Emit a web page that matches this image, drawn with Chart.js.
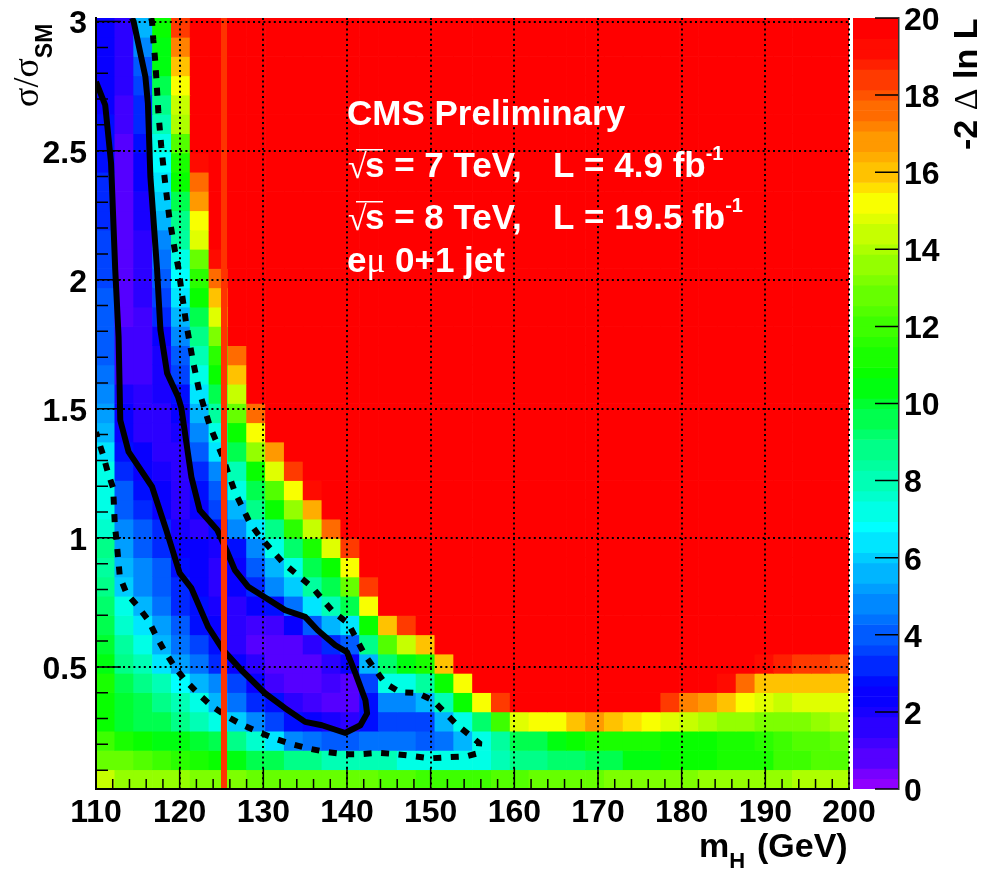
<!DOCTYPE html>
<html>
<head>
<meta charset="utf-8">
<title>CMS likelihood scan</title>
<script src="https://cdn.jsdelivr.net/npm/chart.js@4/dist/chart.umd.min.js"></script>
<style>
    html, body { margin: 0; padding: 0; background: #fff; }
    #wrap { position: relative; width: 982px; height: 870px; overflow: hidden; }
    canvas { position: absolute; left: 0; top: 0; }
</style>
</head>
<body>
<div id="wrap">
    <canvas id="scan" width="982" height="870"></canvas>
    <canvas id="zbar" width="982" height="870"></canvas>
</div>
<script>
// axis ranges and tick labels
const massMin = 110, massMax = 200, massBin = 2.25;
const sigmaMin = 0.027, sigmaMax = 3.014, sigmaBin = (3.014 - 0.027) / 40;
const massTicks = [110, 120, 130, 140, 150, 160, 170, 180, 190, 200];
const sigmaTicks = [0.5, 1, 1.5, 2, 2.5, 3];
const zTicks = [0, 2, 4, 6, 8, 10, 12, 14, 16, 18, 20];

// -2 delta ln L per cell, first row is the bottom one, 40 columns from 110 GeV up
const cellValues = [
    [14.2,13.7,13.6,13.5,13.4,13.3,13.2,13.1,13,13,13,12.9,12.9,12.9,12.6,12.5,12.3,12,12,12.1,12.2,12.4,12.5,12.7,12.8,12.9,13,13.1,13.1,13.2,13.2,13.3,13.4,13.5,13.7,13.7,13.8,13.9,14,14.1],
    [13,12.6,12.3,12,11.5,11,10.9,10.6,9.7,9.4,8.9,8.7,7.8,7.8,8,8,7.4,7.2,7,7,7.2,7.8,8.6,8.8,9.1,9.3,9.4,9.4,10.2,10.2,10.9,10.9,10.9,11.2,11.2,11.2,11.8,11.8,12.4,12.4],
    [12,11.3,10.9,10.5,10.4,10.1,9.7,8.8,7.7,6.3,4.8,4.4,4.2,3.9,4.5,4.5,4.4,3.9,4.4,5.6,7.2,8.4,9.5,9.8,10.5,10.9,11,11.1,11.1,11.1,10.9,10.9,10.9,11.3,11.3,11.5,11.8,12.3,12.5,12.6],
    [10.9,10.1,9.8,9.5,8.7,8,7.2,6,4.7,3.5,2.8,2.2,1.9,1.7,2.8,3.7,3.7,3.7,5.5,7,9.3,11.8,14.8,15,15.4,16,16.6,16.1,15.6,15,14.8,14.2,14,13.7,13.5,13.1,13.1,13.2,13.5,14],
    [10.9,9.9,9.4,8.8,8,7,5.7,4.5,3.4,2.7,1.5,1.1,0.9,0.9,2.8,4.7,5,5.5,8,10.9,15,18.3,20,20,20,20,20,20,20,20,18.3,17.2,16.8,16,15.4,14.8,14.5,14.8,14.9,14.9],
    [11,9.4,8.7,7.9,6.8,5.7,4.7,3.6,2.2,1.3,0.7,0.6,1.1,1,3.6,7,7.4,8.4,10.9,15.4,20,20,20,20,20,20,20,20,20,20,20,20,20,19,17.7,16.1,16.1,16.1,16.1,16.1],
    [10.4,8.8,8,6.3,5.3,4.4,3.4,2.6,1.4,0.9,0.8,0.9,1.4,2.6,5.7,9.3,10.4,11.2,16,20,20,20,20,20,20,20,20,20,20,20,20,20,20,20,20,19,18.7,18.4,18.4,18.1],
    [10,8.3,7.2,5.7,4.4,3.7,2.7,1.7,1,0.7,0.7,1.5,3,3.8,8.6,12.5,14.6,16,20,20,20,20,20,20,20,20,20,20,20,20,20,20,20,20,20,20,20,20,20,20],
    [9.6,7.6,6.3,5.3,3.9,2.9,2.3,1.4,1.2,1.3,2.5,3.8,5.8,6.6,10.8,16.1,18.3,20,20,20,20,20,20,20,20,20,20,20,20,20,20,20,20,20,20,20,20,20,20,20],
    [9.1,7.2,5.4,4.4,3.3,2.8,1.9,1.8,2.6,2.9,4.5,6.2,8,9.5,15,20,20,20,20,20,20,20,20,20,20,20,20,20,20,20,20,20,20,20,20,20,20,20,20,20],
    [8.7,6,5,4.1,3,2.6,1.5,2.2,3,4.7,5.9,8.4,9.7,13,18.3,20,20,20,20,20,20,20,20,20,20,20,20,20,20,20,20,20,20,20,20,20,20,20,20,20],
    [8.5,5.5,4.7,3.8,2.9,2.4,1.6,2.2,3.8,5.6,7.4,9.6,10.9,15.4,20,20,20,20,20,20,20,20,20,20,20,20,20,20,20,20,20,20,20,20,20,20,20,20,20,20],
    [8.6,5.2,4.2,3.3,2.6,2.3,2,2.8,4.8,7.2,9.2,11,14.7,18.2,20,20,20,20,20,20,20,20,20,20,20,20,20,20,20,20,20,20,20,20,20,20,20,20,20,20],
    [7.6,5,3.9,3,2.1,1.8,2.9,4.7,6.4,9,11.5,14.2,17.4,20,20,20,20,20,20,20,20,20,20,20,20,20,20,20,20,20,20,20,20,20,20,20,20,20,20,20],
    [7.4,3.8,3.3,2.5,1.7,2.2,3.5,5.6,8.6,10.9,13.5,16.3,20,20,20,20,20,20,20,20,20,20,20,20,20,20,20,20,20,20,20,20,20,20,20,20,20,20,20,20],
    [7,3.8,2.8,2.3,1.6,2.7,4,7,9.5,12.5,15.3,19,20,20,20,20,20,20,20,20,20,20,20,20,20,20,20,20,20,20,20,20,20,20,20,20,20,20,20,20],
    [7,3.2,2.5,2.1,1.7,3,4.7,8,10.9,14.9,18.3,20,20,20,20,20,20,20,20,20,20,20,20,20,20,20,20,20,20,20,20,20,20,20,20,20,20,20,20,20],
    [6.5,2.9,2.3,1.8,1.8,3.9,6.2,9.4,13.4,16.8,20,20,20,20,20,20,20,20,20,20,20,20,20,20,20,20,20,20,20,20,20,20,20,20,20,20,20,20,20,20],
    [5.7,2.6,1.8,1.7,1.9,4.7,7.3,10.9,15.4,20,20,20,20,20,20,20,20,20,20,20,20,20,20,20,20,20,20,20,20,20,20,20,20,20,20,20,20,20,20,20],
    [5.2,2.3,1.6,1.8,2.2,5.5,8.4,12.7,17.6,20,20,20,20,20,20,20,20,20,20,20,20,20,20,20,20,20,20,20,20,20,20,20,20,20,20,20,20,20,20,20],
    [4.8,1.9,1.5,2.1,2.8,6.2,9.8,14.6,20,20,20,20,20,20,20,20,20,20,20,20,20,20,20,20,20,20,20,20,20,20,20,20,20,20,20,20,20,20,20,20],
    [4.4,1.3,1.3,2.1,3.5,7,10.9,16,20,20,20,20,20,20,20,20,20,20,20,20,20,20,20,20,20,20,20,20,20,20,20,20,20,20,20,20,20,20,20,20],
    [4.2,1.2,1.2,2.1,4.2,8,11.6,17.6,20,20,20,20,20,20,20,20,20,20,20,20,20,20,20,20,20,20,20,20,20,20,20,20,20,20,20,20,20,20,20,20],
    [4,1.1,1.1,2.6,5,8.8,13.3,20,20,20,20,20,20,20,20,20,20,20,20,20,20,20,20,20,20,20,20,20,20,20,20,20,20,20,20,20,20,20,20,20],
    [3.9,1,1.2,3,5.8,9.7,14.8,20,20,20,20,20,20,20,20,20,20,20,20,20,20,20,20,20,20,20,20,20,20,20,20,20,20,20,20,20,20,20,20,20],
    [3.8,0.7,1.5,3.5,6.4,10.8,16,20,20,20,20,20,20,20,20,20,20,20,20,20,20,20,20,20,20,20,20,20,20,20,20,20,20,20,20,20,20,20,20,20],
    [3.7,0.8,1.5,3.8,6.7,11.7,17.6,20,20,20,20,20,20,20,20,20,20,20,20,20,20,20,20,20,20,20,20,20,20,20,20,20,20,20,20,20,20,20,20,20],
    [3.7,0.8,1.6,4.4,7.4,13,19.2,20,20,20,20,20,20,20,20,20,20,20,20,20,20,20,20,20,20,20,20,20,20,20,20,20,20,20,20,20,20,20,20,20],
    [3.5,0.8,1.7,5,8.3,14.8,20,20,20,20,20,20,20,20,20,20,20,20,20,20,20,20,20,20,20,20,20,20,20,20,20,20,20,20,20,20,20,20,20,20],
    [3.3,0.8,1.9,5.6,9,15.4,20,20,20,20,20,20,20,20,20,20,20,20,20,20,20,20,20,20,20,20,20,20,20,20,20,20,20,20,20,20,20,20,20,20],
    [3.1,0.8,2.1,6,9.8,16.8,20,20,20,20,20,20,20,20,20,20,20,20,20,20,20,20,20,20,20,20,20,20,20,20,20,20,20,20,20,20,20,20,20,20],
    [3,0.8,2.3,6.4,10.8,17.8,20,20,20,20,20,20,20,20,20,20,20,20,20,20,20,20,20,20,20,20,20,20,20,20,20,20,20,20,20,20,20,20,20,20],
    [2.9,0.9,2.5,6.9,11.2,19,20,20,20,20,20,20,20,20,20,20,20,20,20,20,20,20,20,20,20,20,20,20,20,20,20,20,20,20,20,20,20,20,20,20],
    [2.8,1,2.8,7.2,12.5,20,20,20,20,20,20,20,20,20,20,20,20,20,20,20,20,20,20,20,20,20,20,20,20,20,20,20,20,20,20,20,20,20,20,20],
    [2.7,1.1,3,8,14,20,20,20,20,20,20,20,20,20,20,20,20,20,20,20,20,20,20,20,20,20,20,20,20,20,20,20,20,20,20,20,20,20,20,20],
    [2.6,1.2,3.3,8.7,14.6,20,20,20,20,20,20,20,20,20,20,20,20,20,20,20,20,20,20,20,20,20,20,20,20,20,20,20,20,20,20,20,20,20,20,20],
    [2.4,1.4,3.7,9.4,15.4,20,20,20,20,20,20,20,20,20,20,20,20,20,20,20,20,20,20,20,20,20,20,20,20,20,20,20,20,20,20,20,20,20,20,20],
    [2.4,1.5,4,10.3,16,20,20,20,20,20,20,20,20,20,20,20,20,20,20,20,20,20,20,20,20,20,20,20,20,20,20,20,20,20,20,20,20,20,20,20],
    [2.4,1.6,4.8,10.6,17.3,20,20,20,20,20,20,20,20,20,20,20,20,20,20,20,20,20,20,20,20,20,20,20,20,20,20,20,20,20,20,20,20,20,20,20],
    [2.4,1.5,5.5,10.8,18.3,20,20,20,20,20,20,20,20,20,20,20,20,20,20,20,20,20,20,20,20,20,20,20,20,20,20,20,20,20,20,20,20,20,20,20]
];

// solid contour (68%)
const solidMass = [110,111.1,111.8,112.3,112.7,112.9,113.9,116.7,118.4,120,121.4,123.4,125.2,127.4,130.2,132.6,135,137,139.8,140,141.6,142.4,142.2,141,140,138.6,136.5,135,132.6,129.8,128.2,126.6,125.6,124.5,122.4,121.4,120.2,119.8,118.5,117.7,117.3,116.9,116.5,116.2,115.9,114.5,114.3];
const solidSigma = [2.767,2.677,2.452,2.038,1.779,1.456,1.333,1.198,1.03,0.863,0.805,0.655,0.565,0.487,0.398,0.34,0.287,0.274,0.244,0.248,0.274,0.32,0.371,0.476,0.557,0.584,0.642,0.694,0.72,0.778,0.81,0.875,0.952,1.03,1.107,1.236,1.503,1.547,1.638,1.805,2.038,2.22,2.399,2.685,2.787,3,3.014];

// dashed contour (95%)
const dashedMass = [116.6,116.7,116.85,117.05,117.2,117.45,117.8,118.25,118.75,119.45,119.85,120.15,120.75,121.5,122.35,123.6,125.05,126.6,128.4,129.6,132.4,135.8,138.35,140.15,142.15,144.55,146.35,148.4,150.25,153.2,154.9,155.8,155.7,154.3,152.1,150,148,145.9,143.75,141.65,139.75,137.4,135.4,133.4,131.3,129.4,127.4,125.6,123.8,122.2,120.75,119.45,118.25,117.25,116.25,115.05,113.65,112.85,112.65,112.45,112.25,112.05,111.4,110.85,110.2,110];
const dashedSigma = [3.014,3,2.929,2.859,2.787,2.651,2.516,2.38,2.244,2.109,2.045,1.973,1.837,1.7,1.566,1.434,1.321,1.178,1.057,1.004,0.902,0.81,0.713,0.669,0.545,0.437,0.402,0.399,0.371,0.274,0.229,0.205,0.166,0.154,0.15,0.146,0.154,0.162,0.167,0.162,0.162,0.171,0.184,0.201,0.223,0.248,0.277,0.309,0.349,0.397,0.445,0.498,0.558,0.616,0.681,0.733,0.785,0.849,0.92,0.991,1.049,1.193,1.256,1.321,1.385,1.41];

// best fit mass line
const bestMass = [125.3, 125.3];
const bestSigma = [0.027, 3.014];

// colour palette
const paletteValues = [0, 0.5, 1, 2, 2.8, 4, 5, 6, 7, 8, 9, 10, 10.8, 12, 13, 14, 15, 15.5, 16, 17, 18, 19, 19.6, 20];
const paletteColors = ['#9900ff','#8000ff','#5500ff','#2000ff','#0000ff','#0050ff','#0088ff','#00c0ff','#00ffff','#00ffc0','#00ff88','#00ff40','#00ff00','#33ff00','#66ff00','#a0ff00','#e0ff00','#ffff00','#ffcc00','#ff9900','#ff6000','#ff2000','#ff0000','#ff0000'];

const SANS = '"Liberation Sans"';
const SERIF = '"Liberation Serif"';
const LEVELS = 75;
const BANDS = 50;

function hexToRgb(hex) {
    const n = parseInt(hex.slice(1), 16);
    return [(n >> 16) & 255, (n >> 8) & 255, n & 255];
}

function paletteAt(z) {
    let i = 0;
    while (i < paletteValues.length - 2 && z > paletteValues[i + 1]) i++;
    const t = Math.min(1, Math.max(0, (z - paletteValues[i]) / (paletteValues[i + 1] - paletteValues[i])));
    const a = hexToRgb(paletteColors[i]);
    const b = hexToRgb(paletteColors[i + 1]);
    return `rgb(${a.map((v, k) => Math.round(v + (b[k] - v) * t)).join(',')})`;
}

// 75 contour levels share 50 palette colours, so bands alternate single and double
function levelColor(level) {
    const band = Math.min(BANDS - 1, Math.floor((level + 1) * 2 / 3));
    return paletteAt((band + 0.5) / BANDS * 20);
}

function zColor(z) {
    return levelColor(Math.min(LEVELS - 1, Math.floor(z / 20 * LEVELS)));
}

function zip(xs, ys) {
    return xs.map((x, i) => ({ x, y: ys[i] }));
}

const cells = [];
cellValues.forEach((row, r) => {
    row.forEach((z, c) => {
        cells.push({
            x: massMin + massBin * (c + 0.5),
            y: [sigmaMin + sigmaBin * r, sigmaMin + sigmaBin * (r + 1)],
            z
        });
    });
});

const zLevels = [];
for (let i = 0; i < LEVELS; i++) {
    zLevels.push({ x: 0, y: [i * 20 / LEVELS, (i + 1) * 20 / LEVELS], level: i });
}

function drawRuns(ctx, x, y, runs) {
    runs.forEach(run => {
        ctx.font = run.font;
        ctx.fillText(run.text, x, y + (run.dy || 0));
        x += ctx.measureText(run.text).width;
    });
}

// drop the label overhang chart.js would otherwise add around the plot
function fixBox(size) {
    return s => {
        if (s.isHorizontal()) s.height = size; else s.width = size;
        s.paddingTop = s.paddingBottom = s.paddingLeft = s.paddingRight = 0;
    };
}

// ROOT style ticks pointing into the frame
const innerTicks = {
    id: 'innerTicks',
    afterDatasetsDraw(chart) {
        const { ctx, chartArea, scales } = chart;
        ctx.save();
        ctx.strokeStyle = '#000';
        ctx.lineWidth = 1.5;
        ctx.beginPath();
        for (let m = massMin; m <= massMax; m += 2) {
            const px = scales.x.getPixelForValue(m);
            ctx.moveTo(px, chartArea.bottom);
            ctx.lineTo(px, chartArea.bottom - (m % 10 === 0 ? 21 : 10));
        }
        for (let k = 1; k <= 30; k++) {
            const py = scales.y.getPixelForValue(k / 10);
            ctx.moveTo(chartArea.left, py);
            ctx.lineTo(chartArea.left + (k % 5 === 0 ? 25 : 12), py);
        }
        ctx.stroke();
        ctx.restore();
    }
};

const annotations = {
    id: 'annotations',
    afterDraw(chart) {
        const { ctx } = chart;
        const bold = px => `bold ${px}px ${SANS}`;
        const serif = px => `${px}px ${SERIF}`;
        ctx.save();
        ctx.textAlign = 'left';
        ctx.textBaseline = 'alphabetic';

        ctx.fillStyle = '#fff';
        drawRuns(ctx, 347, 125, [{ text: 'CMS Preliminary', font: bold(35) }]);
        [[177, 's = 7 TeV,', 'L = 4.9 fb'], [229, 's = 8 TeV,', 'L = 19.5 fb']].forEach(([y, energy, lumi]) => {
            drawRuns(ctx, 348, y + 1, [{ text: '√', font: serif(34) }]);
            ctx.fillRect(356, y - 28, 27, 1.5);
            drawRuns(ctx, 365, y, [{ text: energy, font: bold(35) }]);
            drawRuns(ctx, 553, y, [{ text: lumi, font: bold(35) }, { text: '-1', font: bold(20), dy: -17 }]);
        });
        drawRuns(ctx, 347, 272, [{ text: 'e', font: bold(35) }, { text: 'μ', font: serif(35) }]);
        drawRuns(ctx, 395, 272, [{ text: '0+1 jet', font: bold(35) }]);

        ctx.fillStyle = '#000';
        drawRuns(ctx, 699, 857, [{ text: 'm', font: bold(34) }, { text: 'H', font: bold(22), dy: 11 }]);
        drawRuns(ctx, 757, 857, [{ text: '(GeV)', font: bold(34) }]);

        ctx.save();
        ctx.translate(38, 107);
        ctx.rotate(-Math.PI / 2);
        drawRuns(ctx, 0, 0, [{ text: 'σ/σ', font: serif(36) }, { text: 'SM', font: bold(23), dy: 14 }]);
        ctx.restore();

        ctx.save();
        ctx.translate(977, 150);
        ctx.rotate(-Math.PI / 2);
        drawRuns(ctx, 0, 0, [{ text: '-2 ', font: bold(34) }, { text: 'Δ', font: serif(34) }, { text: ' ln L', font: bold(34) }]);
        ctx.restore();

        ctx.restore();
    }
};

new Chart(document.getElementById('scan'), {
    type: 'bar',
    data: {
        datasets: [
            {
                type: 'line',
                data: zip(bestMass, bestSigma),
                borderColor: '#ff3300',
                borderWidth: 6,
                pointRadius: 0,
                order: 0
            },
            {
                type: 'line',
                data: zip(solidMass, solidSigma),
                borderColor: '#000',
                borderWidth: 6,
                borderJoinStyle: 'round',
                pointRadius: 0,
                order: 1
            },
            {
                type: 'line',
                data: zip(dashedMass, dashedSigma),
                borderColor: '#000',
                borderWidth: 6,
                borderDash: [8, 9.5],
                pointRadius: 0,
                order: 1
            },
            {
                data: cells,
                backgroundColor: ctx => zColor(ctx.raw.z),
                borderWidth: 0,
                barPercentage: 1,
                categoryPercentage: 1,
                grouped: false,
                order: 2
            }
        ]
    },
    options: {
        responsive: false,
        animation: false,
        events: [],
        layout: { padding: { left: 0, top: 18, right: 133, bottom: 0 } },
        plugins: { legend: { display: false }, tooltip: { enabled: false } },
        scales: {
            x: {
                type: 'linear',
                offset: false,
                min: massMin,
                max: massMax,
                afterBuildTicks: s => { s.ticks = massTicks.map(value => ({ value })); },
                afterFit: fixBox(81),
                ticks: {
                    autoSkip: false,
                    maxRotation: 0,
                    padding: 5,
                    color: '#000',
                    font: { family: SANS, size: 32, weight: 'bold' },
                    callback: v => String(v)
                },
                grid: { offset: false, color: '#000', lineWidth: 2, drawTicks: false, z: 1 },
                border: { color: '#000', width: 2, dash: [2, 3.2], z: 2 }
            },
            y: {
                type: 'linear',
                min: sigmaMin,
                max: sigmaMax,
                afterBuildTicks: s => { s.ticks = sigmaTicks.map(value => ({ value })); },
                afterFit: fixBox(96),
                ticks: {
                    autoSkip: false,
                    padding: 9,
                    labelOffset: 3,
                    color: '#000',
                    font: { family: SANS, size: 32, weight: 'bold' },
                    callback: v => String(v)
                },
                grid: { color: '#000', lineWidth: 2, drawTicks: false, z: 1 },
                border: { color: '#000', width: 2, dash: [2, 3.2], z: 2 }
            }
        }
    },
    plugins: [innerTicks, annotations]
});

const zbarTicks = {
    id: 'zbarTicks',
    afterDatasetsDraw(chart) {
        const { ctx, chartArea, scales } = chart;
        ctx.save();
        ctx.strokeStyle = '#000';
        ctx.lineWidth = 1.5;
        ctx.beginPath();
        zTicks.forEach(z => {
            const py = scales.y.getPixelForValue(z);
            ctx.moveTo(chartArea.right, py);
            ctx.lineTo(chartArea.right - 24, py);
        });
        ctx.stroke();
        ctx.restore();
    }
};

new Chart(document.getElementById('zbar'), {
    type: 'bar',
    data: {
        datasets: [{
            data: zLevels,
            backgroundColor: ctx => levelColor(ctx.raw.level),
            borderWidth: 0,
            barPercentage: 1,
            categoryPercentage: 1,
            grouped: false
        }]
    },
    options: {
        responsive: false,
        animation: false,
        events: [],
        layout: { padding: { left: 853, top: 18, right: 0, bottom: 81 } },
        plugins: { legend: { display: false }, tooltip: { enabled: false } },
        scales: {
            x: { type: 'linear', offset: false, min: -0.5, max: 0.5, display: false },
            y: {
                type: 'linear',
                position: 'right',
                min: 0,
                max: 20,
                afterBuildTicks: s => { s.ticks = zTicks.map(value => ({ value })); },
                afterFit: fixBox(83),
                ticks: {
                    autoSkip: false,
                    padding: 5,
                    labelOffset: 3,
                    color: '#000',
                    font: { family: SANS, size: 32, weight: 'bold' },
                    callback: v => String(v)
                },
                grid: { display: false, drawTicks: false },
                border: { color: '#333', width: 1.5, z: 2 }
            }
        }
    },
    plugins: [zbarTicks]
});
</script>
</body>
</html>
